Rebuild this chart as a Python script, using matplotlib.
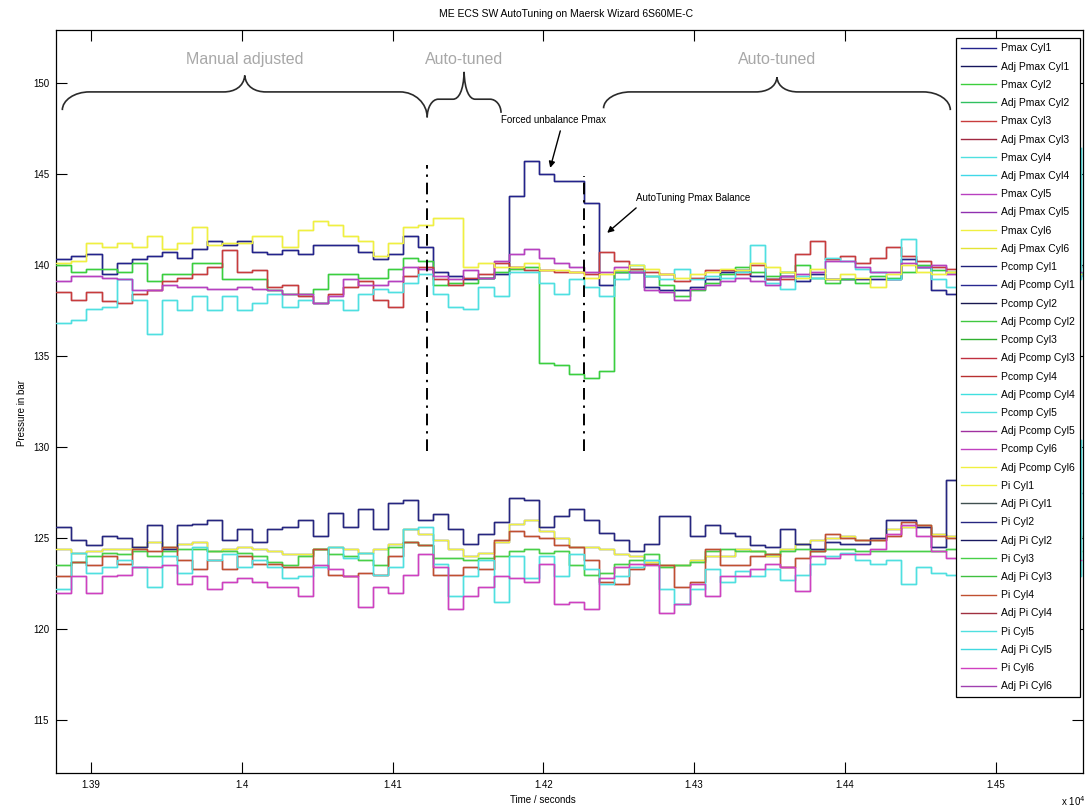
import numpy as np
import matplotlib
matplotlib.use("Agg")
import matplotlib.pyplot as plt
from matplotlib.path import Path
from matplotlib.patches import PathPatch
from matplotlib.lines import Line2D
from matplotlib.ticker import FuncFormatter

plt.rcParams['font.family'] = ['Liberation Sans', 'DejaVu Sans']

# sample times, seconds (one logged value every 10 s)
time_s = np.arange(13877, 14560, 10)

# Pmax per cylinder, bar
pmax_cyl1 = [140.3, 140.5, 140.6, 139.5, 140.1, 140.3, 140.5, 140.7, 140.4, 140.9,
             141.3, 141.1, 141.3, 140.7, 140.6, 140.8, 140.6, 141.1, 141.1, 141.1,
             140.7, 140.3, 140.6, 141.6, 141.0, 139.6, 139.4, 139.2, 139.3, 139.5,
             143.8, 145.7, 145.0, 144.6, 144.6, 143.4, 138.9, 139.6, 139.6, 138.8,
             138.6, 138.6, 138.8, 139.2, 139.6, 139.7, 139.4, 139.2, 139.4, 139.1,
             139.5, 139.2, 139.2, 139.2, 139.2, 139.2, 140.3, 139.9, 138.6, 138.4,
             139.0, 139.3, 139.5, 139.5, 139.2, 139.2, 139.6, 139.6, 139.4]
pmax_cyl2 = [140.0, 139.6, 139.8, 139.8, 139.6, 140.1, 139.1, 139.5, 139.5, 140.1,
             140.1, 139.2, 139.2, 139.2, 138.6, 138.4, 138.4, 138.7, 139.5, 139.5,
             139.3, 139.3, 139.8, 140.4, 140.2, 138.9, 139.0, 139.0, 139.3, 139.6,
             139.8, 139.9, 134.6, 134.5, 134.0, 133.8, 134.2, 139.6, 139.8, 139.4,
             138.9, 138.3, 138.6, 139.0, 139.5, 139.9, 139.6, 139.4, 139.6, 140.0,
             139.3, 139.0, 139.2, 139.0, 139.4, 139.3, 139.6, 140.0, 139.7, 139.6,
             139.8, 139.8, 139.6, 139.6, 139.7, 139.7, 139.5, 139.5, 139.6]
pmax_cyl3 = [138.5, 138.1, 138.5, 138.0, 137.9, 138.4, 138.6, 139.1, 139.3, 139.5,
             139.9, 140.8, 139.6, 139.7, 138.8, 138.9, 138.3, 137.9, 138.4, 138.8,
             139.1, 138.1, 137.7, 139.4, 139.9, 139.2, 138.9, 139.3, 139.5, 140.1,
             139.9, 139.7, 139.7, 139.6, 139.6, 139.5, 140.7, 140.2, 139.8, 139.6,
             139.5, 139.1, 139.3, 139.7, 139.7, 139.5, 140.0, 139.2, 139.2, 140.6,
             141.3, 140.3, 140.5, 140.1, 140.4, 141.0, 140.5, 140.2, 139.9, 139.8,
             140.0, 140.2, 139.8, 139.8, 140.0, 140.1, 139.9, 139.9, 140.0]
pmax_cyl4 = [136.8, 137.0, 137.6, 137.7, 139.2, 138.1, 136.2, 138.1, 137.5, 138.3,
             137.5, 138.3, 137.5, 137.9, 138.4, 137.7, 138.1, 137.9, 138.1, 137.5,
             138.4, 138.7, 138.5, 139.0, 139.5, 138.4, 137.7, 137.6, 138.8, 138.3,
             139.6, 139.6, 139.0, 138.4, 139.2, 138.8, 138.3, 139.2, 140.0, 139.4,
             139.2, 139.8, 139.2, 139.4, 139.3, 139.6, 141.1, 139.0, 138.7, 139.4,
             139.3, 140.4, 140.2, 139.8, 139.6, 139.2, 141.4, 139.9, 139.2, 138.8,
             139.0, 139.2, 139.4, 139.0, 139.0, 139.3, 139.3, 139.2, 146.4]
pmax_cyl5 = [139.1, 139.4, 139.4, 139.3, 139.2, 138.6, 138.6, 138.9, 138.8, 138.8,
             138.7, 138.7, 138.8, 138.7, 138.6, 138.4, 138.4, 137.9, 138.3, 139.2,
             138.9, 138.9, 139.1, 139.9, 139.8, 139.4, 139.2, 139.7, 139.3, 140.2,
             140.6, 140.9, 140.4, 140.1, 139.9, 139.6, 139.6, 139.9, 139.6, 138.6,
             138.5, 138.1, 138.7, 138.9, 139.1, 139.3, 139.1, 138.9, 139.4, 139.5,
             139.6, 140.2, 140.2, 139.9, 139.6, 139.6, 140.1, 139.9, 140.0, 139.5,
             139.6, 139.8, 139.8, 139.5, 139.5, 139.7, 139.7, 139.6, 139.6]
pmax_cyl6 = [140.1, 140.2, 141.2, 141.0, 141.2, 141.0, 141.6, 140.9, 141.2, 142.1,
             141.1, 141.2, 141.2, 141.6, 141.6, 141.0, 141.9, 142.4, 142.2, 141.6,
             141.3, 140.5, 141.2, 142.1, 142.2, 142.6, 142.6, 139.9, 140.1, 139.9,
             139.9, 140.1, 139.7, 139.7, 139.6, 139.3, 139.5, 139.7, 140.0, 139.8,
             139.5, 139.3, 139.5, 139.6, 139.8, 139.7, 140.1, 139.9, 139.6, 139.3,
             139.8, 139.2, 139.5, 139.3, 138.8, 139.5, 140.0, 139.6, 139.5, 139.6,
             139.5, 139.7, 139.7, 139.4, 139.4, 139.6, 139.6, 139.5, 139.5]

# Pi (mean indicated pressure) per cylinder, bar
pi_cyl1 = [124.4, 124.2, 124.3, 124.4, 124.4, 124.5, 124.8, 124.5, 124.7, 124.8,
           124.3, 124.4, 124.5, 124.4, 124.3, 124.1, 124.1, 124.4, 124.5, 124.4,
           124.2, 124.4, 124.7, 125.5, 125.2, 124.9, 124.4, 124.0, 124.2, 124.8,
           125.8, 126.0, 125.4, 125.0, 124.5, 124.5, 124.4, 124.1, 124.0, 123.7,
           123.5, 123.5, 123.8, 124.0, 124.0, 124.4, 124.3, 124.0, 124.4, 124.7,
           124.9, 125.0, 125.1, 124.9, 124.9, 125.5, 125.6, 125.7, 125.2, 125.1,
           125.3, 125.3, 125.0, 125.0, 125.2, 125.2, 125.1, 125.1, 125.1]
pi_cyl2 = [125.6, 124.9, 124.6, 125.1, 125.0, 124.5, 125.7, 124.4, 125.7, 125.8,
           126.0, 124.9, 125.5, 124.8, 125.5, 125.6, 126.0, 125.1, 126.4, 125.6,
           126.6, 125.5, 126.9, 127.1, 126.0, 126.3, 125.5, 124.7, 125.2, 125.9,
           127.2, 127.1, 125.6, 126.2, 126.6, 126.0, 125.3, 124.9, 124.3, 124.7,
           126.2, 126.2, 125.1, 125.7, 125.3, 125.1, 124.6, 124.5, 125.5, 124.7,
           124.4, 124.8, 124.7, 124.7, 125.0, 126.0, 126.0, 125.6, 124.5, 128.2,
           128.2, 127.6, 127.6, 127.4, 127.4, 127.5, 127.5, 127.5, 127.5]
pi_cyl3 = [123.5, 123.7, 124.0, 124.2, 124.1, 124.3, 124.0, 124.3, 124.4, 124.4,
           124.3, 124.3, 124.2, 124.0, 123.7, 123.5, 124.0, 124.4, 124.1, 124.0,
           123.8, 123.5, 124.5, 124.8, 124.6, 123.9, 123.9, 123.8, 123.9, 124.0,
           124.3, 124.4, 124.2, 124.3, 123.5, 123.0, 123.1, 123.6, 123.8, 124.1,
           123.4, 123.5, 123.7, 124.3, 124.4, 124.3, 124.3, 124.1, 124.3, 124.4,
           124.3, 124.4, 124.4, 124.3, 124.3, 124.3, 124.3, 124.3, 124.3, 124.4,
           124.3, 124.3, 124.3, 124.3, 124.3, 124.3, 124.3, 124.3, 124.3]
pi_cyl4 = [122.9, 123.7, 123.5, 124.0, 123.6, 124.4, 124.3, 124.5, 123.8, 123.3,
           123.8, 123.3, 124.0, 123.6, 123.6, 123.4, 123.4, 124.4, 123.0, 122.9,
           123.1, 123.0, 124.0, 124.8, 124.6, 123.0, 123.0, 123.4, 123.3, 124.9,
           125.4, 125.1, 125.0, 124.6, 124.5, 123.8, 122.6, 122.5, 123.3, 123.6,
           123.5, 122.3, 122.6, 124.4, 123.5, 123.5, 124.0, 124.1, 123.4, 123.9,
           124.3, 125.2, 125.0, 124.9, 124.9, 125.1, 125.9, 125.7, 125.1, 125.0,
           125.2, 125.2, 124.9, 124.9, 125.1, 125.1, 125.0, 125.0, 125.0]
pi_cyl5 = [122.2, 124.2, 123.1, 123.4, 123.8, 123.4, 122.3, 124.0, 123.1, 124.5,
           123.8, 124.1, 123.4, 123.8, 123.4, 122.8, 122.9, 123.4, 124.5, 123.9,
           124.2, 123.0, 123.4, 125.5, 125.6, 123.6, 121.8, 122.9, 123.8, 121.5,
           124.0, 122.8, 124.0, 122.9, 124.1, 123.3, 122.5, 122.9, 123.4, 123.8,
           122.2, 121.4, 122.2, 123.3, 122.6, 123.2, 122.9, 123.3, 122.7, 123.0,
           123.6, 124.0, 124.2, 123.8, 123.6, 123.8, 122.5, 123.4, 123.1, 123.0,
           123.2, 123.2, 122.8, 122.8, 123.0, 123.0, 122.9, 122.9, 130.4]
pi_cyl6 = [122.0, 122.9, 122.0, 122.9, 123.0, 123.4, 123.4, 123.5, 122.5, 122.9,
           122.2, 122.6, 122.8, 122.6, 122.3, 122.3, 121.8, 123.5, 123.3, 122.9,
           121.2, 122.3, 122.0, 123.0, 124.1, 123.4, 121.1, 121.8, 122.3, 122.9,
           122.8, 122.6, 123.6, 121.4, 121.5, 121.1, 122.8, 123.4, 123.6, 123.5,
           120.9, 121.4, 122.5, 121.8, 122.9, 122.9, 123.3, 123.6, 123.4, 122.1,
           124.0, 123.9, 124.1, 124.1, 124.4, 125.2, 125.7, 125.1, 124.3, 123.9,
           124.0, 124.0, 123.7, 123.7, 123.9, 123.9, 123.8, 123.8, 123.8]

cylinders = [1, 2, 3, 4, 5, 6]
pmax_series = [pmax_cyl1, pmax_cyl2, pmax_cyl3, pmax_cyl4, pmax_cyl5, pmax_cyl6]
pi_series = [pi_cyl1, pi_cyl2, pi_cyl3, pi_cyl4, pi_cyl5, pi_cyl6]

# tuning phases and tuning events, seconds
phase_labels = ['Manual adjusted', 'Auto-tuned', 'Auto-tuned']
phase_start_s = [13881, 14123, 14240]
phase_end_s = [14123, 14172, 14470]
tuning_events_s = [14123, 14227]

# line colours: (value, adjusted value) per cylinder
pmax_colors = [('#23238c', '#15155c'), ('#3ccf3c', '#30c060'), ('#c83c3c', '#a02840'),
               ('#4fe0e0', '#40d8e8'), ('#b840c0', '#9030b0'), ('#f0f040', '#e4e434')]
pcomp_colors = [('#20207a', '#282890'), ('#181850', '#40c840'), ('#30b030', '#c03040'),
                ('#b83030', '#40e0e0'), ('#50e0e0', '#a030a0'), ('#c040c0', '#f0f040')]
pi_colors = [('#f0f040', '#405050'), ('#262680', '#181860'), ('#48d048', '#40c040'),
             ('#c05030', '#a03040'), ('#4fe0e0', '#40d8e0'), ('#d040c0', '#a040b0')]


def brace(ax, x0, x1, y_flat, y_tip, y_end0, y_end1, color='#2a2a2a'):
    xm = (x0 + x1) / 2
    w = min(0.0018, 0.15 * (x1 - x0))
    wt = min(0.0014, 0.15 * (x1 - x0))
    verts = [(x0, y_end0),
             (x0, y_end0 + 0.55 * (y_flat - y_end0)), (x0 + 0.45 * w, y_flat), (x0 + w, y_flat),
             (xm - wt, y_flat),
             (xm - 0.5 * wt, y_flat), (xm - 0.05 * wt, y_flat + 0.3 * (y_tip - y_flat)), (xm, y_tip),
             (xm + 0.05 * wt, y_flat + 0.3 * (y_tip - y_flat)), (xm + 0.5 * wt, y_flat), (xm + wt, y_flat),
             (x1 - w, y_flat),
             (x1 - 0.45 * w, y_flat), (x1, y_end1 + 0.55 * (y_flat - y_end1)), (x1, y_end1)]
    codes = [Path.MOVETO, Path.CURVE4, Path.CURVE4, Path.CURVE4, Path.LINETO,
             Path.CURVE4, Path.CURVE4, Path.CURVE4, Path.CURVE4, Path.CURVE4, Path.CURVE4,
             Path.LINETO, Path.CURVE4, Path.CURVE4, Path.CURVE4]
    ax.add_patch(PathPatch(Path(verts, codes), fill=False, edgecolor=color, lw=1.2, zorder=4))


fig = plt.figure(figsize=(10.9, 8.11), dpi=100)
ax = fig.add_axes([56 / 1090, 1 - 773 / 811, 1027 / 1090, 743 / 811])
t = time_s / 1e4

handles, labels = [], []

def add_pair(name, cyl, values, cols):
    # adjusted trace sits underneath the measured one
    if values is not None:
        adj = ax.plot(t, values, drawstyle='steps-post', color=cols[1], lw=1.0, zorder=2)[0]
        raw = ax.plot(t, values, drawstyle='steps-post', color=cols[0], lw=1.0, zorder=3)[0]
    else:
        adj = Line2D([], [], color=cols[1], lw=1.0)
        raw = Line2D([], [], color=cols[0], lw=1.0)
    handles.extend([raw, adj])
    labels.extend([f'{name} Cyl{cyl}', f'Adj {name} Cyl{cyl}'])

for c, v, cols in zip(cylinders, pmax_series, pmax_colors):
    add_pair('Pmax', c, v, cols)
for c, cols in zip(cylinders, pcomp_colors):
    add_pair('Pcomp', c, None, cols)
for c, v, cols in zip(cylinders, pi_series, pi_colors):
    add_pair('Pi', c, v, cols)

ax.set_xlim(1.38768, 1.4558)
ax.set_ylim(112.1, 152.9)
ax.set_xticks(np.arange(1.39, 1.4501, 0.01))
ax.set_yticks(np.arange(115, 151, 5))
ax.xaxis.set_major_formatter(FuncFormatter(lambda v, p: f'{round(v, 2):g}'))
ax.tick_params(direction='in', length=8, width=0.8, top=True, right=True, labelsize=7, pad=5)
for s in ax.spines.values():
    s.set_linewidth(0.9)

# tuning events
ev_top = [145.5, 144.9]
for ev, top in zip(tuning_events_s, ev_top):
    ax.plot([ev / 1e4, ev / 1e4], [129.8, top], color='black', lw=1.4,
            linestyle=(0, (6, 3, 1.2, 3)), zorder=5)

# phase braces
brace_geom = [(149.5, 150.4, 148.5, 148.1), (149.1, 150.6, 148.1, 148.35), (149.5, 150.3, 148.6, 148.5)]
for lab, s0, s1, g in zip(phase_labels, phase_start_s, phase_end_s, brace_geom):
    brace(ax, s0 / 1e4, s1 / 1e4, *g)
    ax.text((s0 + s1) / 2e4, 151.3, lab, ha='center', va='center', fontsize=11.5, color='#a8a8a8')

# annotations
arrow = dict(arrowstyle='-|>', color='black', lw=1.0, mutation_scale=9, shrinkA=0, shrinkB=0)
ax.text(1.41722, 147.97, 'Forced unbalance Pmax', fontsize=7, ha='left', va='center')
ax.annotate('', xy=(1.42046, 145.33), xytext=(1.42113, 147.36), arrowprops=arrow)
ax.text(1.42616, 143.68, 'AutoTuning Pmax Balance', fontsize=7, ha='left', va='center')
ax.annotate('', xy=(1.42424, 141.76), xytext=(1.42616, 143.13), arrowprops=arrow)

leg = ax.legend(handles, labels, loc='upper right', bbox_to_anchor=(0.997, 0.989), borderaxespad=0,
                fontsize=7.5, handlelength=3.3, handletextpad=0.5, labelspacing=0.79, borderpad=0.5,
                fancybox=False, framealpha=1, edgecolor='black')
leg.get_frame().set_linewidth(0.9)

fig.text(566 / 1090, 1 - 14 / 811, 'ME ECS SW AutoTuning on Maersk Wizard 6S60ME-C', ha='center', va='center', fontsize=7.5)
fig.text(22 / 1090, 1 - 413 / 811, 'Pressure in bar', rotation=90, ha='center', va='center', fontsize=7)
fig.text(543 / 1090, 1 - 800 / 811, 'Time / seconds', ha='center', va='center', fontsize=7)
fig.text(1086 / 1090, 1 - 801 / 811, r'x 10$^4$', ha='right', va='center', fontsize=7)

fig.savefig('out.png', dpi=100)
